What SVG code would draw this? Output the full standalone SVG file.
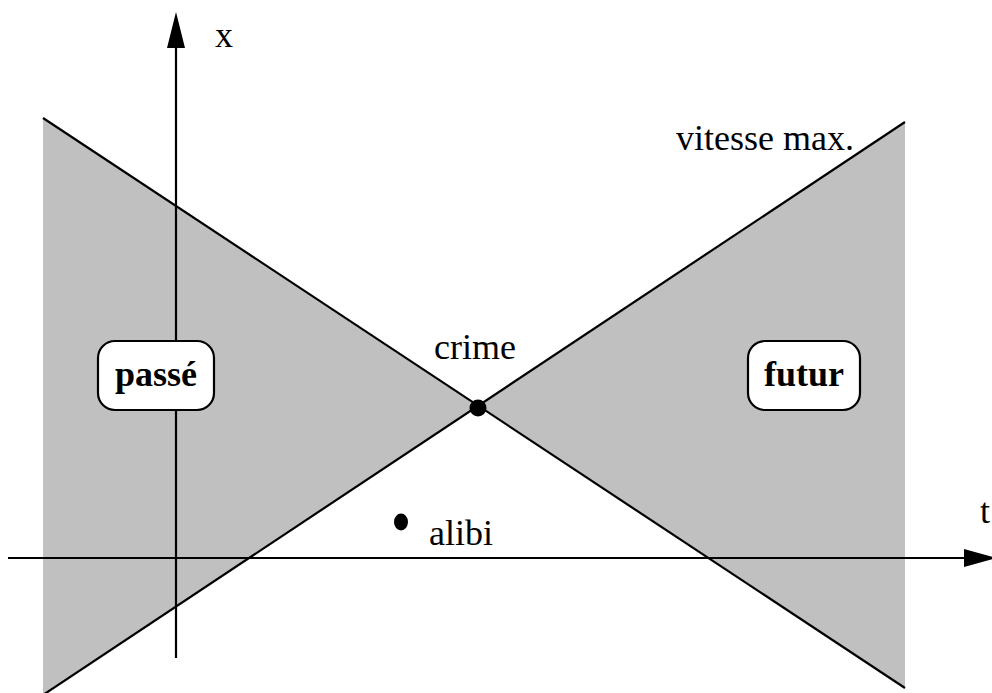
<svg xmlns="http://www.w3.org/2000/svg" width="992" height="693" viewBox="0 0 992 693">
<style>
.cone{fill:#c0c0c0;stroke:none}
.ln{stroke:#000;stroke-width:2.2;fill:none}
.head{fill:#000;stroke:none}
.lbl{font-family:"Liberation Serif","Times New Roman",serif;font-size:36px;fill:#000}
.bold{font-weight:bold;text-anchor:middle}
.box{fill:#fff;stroke:#000;stroke-width:2.2}
</style>
<rect width="992" height="693" fill="#fff"/>
<g id="cones">
<polygon class="cone" points="43,118 478.4,405.4 43,695"/>
<polygon class="cone" points="905,122 478.4,405.4 905,688"/>
</g>
<g id="connectors">
<line class="ln" x1="176" y1="658" x2="176" y2="46"/>
<path class="head" d="M176,12 L185,48 L167,48 Z"/>
<line class="ln" x1="8" y1="558" x2="966" y2="558"/>
<path class="head" d="M997,558 L964,567 L964,549 Z"/>
<line class="ln" x1="43" y1="118" x2="905" y2="688"/>
<line class="ln" x1="905" y1="122" x2="43" y2="695"/>
</g>
<g id="passe">
<rect class="box" x="98" y="341" width="116" height="69" rx="17"/>
<text class="lbl bold" x="156" y="386">passé</text>
</g>
<g id="futur">
<rect class="box" x="748" y="341" width="112" height="69" rx="17"/>
<text class="lbl bold" x="804" y="386">futur</text>
</g>
<g id="crime">
<circle cx="478" cy="408" r="8.5" fill="#000"/>
<text class="lbl" x="434" y="359">crime</text>
</g>
<g id="alibi">
<ellipse cx="401" cy="522" rx="7" ry="8.5" fill="#000"/>
<text class="lbl" x="429" y="545">alibi</text>
</g>
<text class="lbl" x="215" y="47">x</text>
<text class="lbl" x="980" y="523">t</text>
<text class="lbl" x="676" y="150">vitesse max.</text>
</svg>
